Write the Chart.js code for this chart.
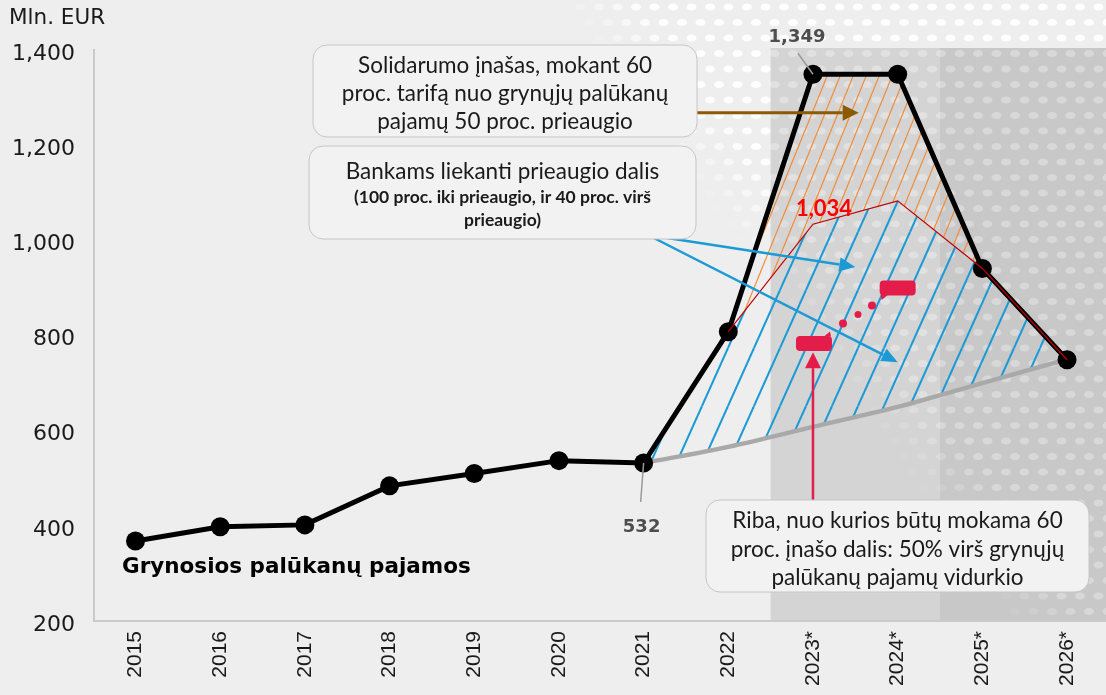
<!DOCTYPE html>
<html>
<head>
<meta charset="utf-8">
<script src="https://cdn.jsdelivr.net/npm/chart.js@4.4.1/dist/chart.umd.min.js"></script>
<style>
  html, body { margin: 0; padding: 0; background: #eeeeee; }
  #wrap { width: 1106px; height: 695px; }
</style>
</head>
<body>
<div id="wrap"><canvas id="chart" width="1106" height="695"></canvas></div>
<script>
// chart values
const years = ['2015', '2016', '2017', '2018', '2019', '2020', '2021', '2022', '2023*', '2024*', '2025*', '2026*'];
const netInterest = [368, 398, 402, 484, 510, 537, 532, 808, 1349, 1349, 941, 749];
const bankShare = [null, null, null, null, null, null, null, 808, 1034, 1083, 941, 749];
const threshold = [null, null, null, null, null, null, 532, 566, 608, 650, 700, 750];
const yTicks = [200, 400, 600, 800, 1000, 1200, 1400];

const unitLabel = 'Mln. EUR';
const seriesLabel = 'Grynosios palūkanų pajamos';
const noteSolidarity = ['Solidarumo įnašas, mokant 60', 'proc. tarifą nuo grynųjų palūkanų', 'pajamų 50 proc. prieaugio'];
const noteBanks = ['Bankams liekanti prieaugio dalis', '(100 proc. iki prieaugio, ir 40 proc. virš', 'prieaugio)'];
const noteThreshold = ['Riba, nuo kurios būtų mokama 60', 'proc. įnašo dalis: 50% virš grynųjų', 'palūkanų pajamų vidurkio'];

const X_MIN = -0.49, X_MAX = 11.46;

const fmt = v => v.toLocaleString('en-US');
const pts = arr => arr.map((v, i) => v === null ? null : { x: i, y: v }).filter(Boolean);

function hatch(color, w, h, lw) {
    const c = document.createElement('canvas');
    c.width = w;
    c.height = h;
    const g = c.getContext('2d');
    g.strokeStyle = color;
    g.lineWidth = lw;
    for (let k = -1; k <= 1; k++) {
        g.beginPath();
        g.moveTo(k * w, h);
        g.lineTo((k + 1) * w, 0);
        g.stroke();
    }
    return g.createPattern(c, 'repeat');
}

function arrow(ctx, x1, y1, x2, y2, color, lw, len, half) {
    const a = Math.atan2(y2 - y1, x2 - x1);
    const bx = x2 - len * Math.cos(a), by = y2 - len * Math.sin(a);
    ctx.save();
    ctx.strokeStyle = color;
    ctx.fillStyle = color;
    ctx.lineWidth = lw;
    ctx.beginPath();
    ctx.moveTo(x1, y1);
    ctx.lineTo(bx, by);
    ctx.stroke();
    ctx.beginPath();
    ctx.moveTo(x2, y2);
    ctx.lineTo(bx + half * Math.sin(a), by - half * Math.cos(a));
    ctx.lineTo(bx - half * Math.sin(a), by + half * Math.cos(a));
    ctx.closePath();
    ctx.fill();
    ctx.restore();
}

function noteBox(ctx, x, y, w, h, lines) {
    ctx.save();
    ctx.beginPath();
    ctx.roundRect(x, y, w, h, 14);
    ctx.fillStyle = '#f2f2f2';
    ctx.fill();
    ctx.strokeStyle = '#c6c6c6';
    ctx.lineWidth = 1;
    ctx.stroke();
    ctx.fillStyle = '#1a1a1a';
    ctx.textAlign = 'center';
    ctx.textBaseline = 'middle';
    lines.forEach(l => {
        ctx.font = l.font;
        ctx.fillText(l.text, x + w / 2, l.y);
    });
    ctx.restore();
}

const backdrop = {
    id: 'backdrop',
    beforeDraw(chart) {
        const { ctx, chartArea: a, scales: { x } } = chart;
        ctx.save();
        ctx.fillStyle = '#eeeeee';
        ctx.fillRect(0, 0, chart.width, chart.height);
        const b1 = x.getPixelForValue(7.5), b2 = x.getPixelForValue(9.5);
        const top = a.top - 2;
        ctx.fillStyle = '#d4d4d4';
        ctx.fillRect(b1, top, b2 - b1, a.bottom - top);
        ctx.fillStyle = '#c8c8c8';
        ctx.fillRect(b2, top, chart.width - b2, a.bottom - top);
        // dotted texture in the upper right corner
        for (let r = 0; r < 45; r++) {
            const yy = 7 + r * 15.5;
            if (yy > a.bottom - 4) break;
            for (let xx = 562 + (r % 2) * 9; xx < chart.width + 10; xx += 18.5) {
                let k = (xx - 560 - 0.72 * yy) / 80;
                if (k <= 0) continue;
                k = Math.min(k, 1);
                const inBand = xx >= b1 && yy >= top;
                ctx.fillStyle = `rgba(255,255,255,${(inBand ? 0.3 : 0.9) * k})`;
                ctx.beginPath();
                ctx.ellipse(xx, yy, 5, 3.6, 0, 0, Math.PI * 2);
                ctx.fill();
            }
        }
        ctx.restore();
    }
};

const notes = {
    id: 'notes',
    afterDraw(chart) {
        const { ctx, scales: { x, y } } = chart;
        const px = i => x.getPixelForValue(i);
        const py = v => y.getPixelForValue(v);

        ctx.save();
        ctx.fillStyle = '#1a1a1a';
        ctx.font = '21.5px "DejaVu Sans"';
        ctx.textBaseline = 'middle';
        ctx.fillText(unitLabel, 9, 18);

        ctx.fillStyle = '#000';
        ctx.font = 'bold 21.5px "DejaVu Sans"';
        ctx.fillText(seriesLabel, 122, 567);

        // value labels with leader lines
        const peak = netInterest[8], base = netInterest[6], red = bankShare[8];
        ctx.strokeStyle = '#9a9a9a';
        ctx.lineWidth = 1.5;
        ctx.beginPath();
        ctx.moveTo(px(8) - 15, py(peak) - 21);
        ctx.lineTo(px(8), py(peak));
        ctx.moveTo(px(6), py(base));
        ctx.lineTo(px(6) - 3, py(base) + 39);
        ctx.stroke();
        ctx.textAlign = 'center';
        ctx.fillStyle = '#4d4d4d';
        ctx.font = 'bold 18px "DejaVu Sans"';
        ctx.fillText(fmt(peak), px(8) - 16, py(peak) - 37);
        ctx.fillText(fmt(base), px(6) - 2, py(base) + 64);
        ctx.fillStyle = '#ff0000';
        ctx.font = 'bold 22px Lato';
        ctx.fillText(fmt(red), px(8) + 11, py(red) - 15);
        ctx.restore();

        // arrows
        arrow(ctx, 697, py(1268), px(8.54), py(1268), '#8c5a00', 3, 16, 8);
        arrow(ctx, 648, 235, px(8.5), py(944), '#1b9ad6', 2.5, 16, 7);
        arrow(ctx, 648, 235, px(9.0), py(744), '#1b9ad6', 2.5, 16, 7);
        arrow(ctx, px(8), 500, px(8), py(765), '#e31c4a', 2.5, 16, 8);

        // threshold icon
        ctx.save();
        ctx.fillStyle = '#e31c4a';
        const c1x = px(8) + 1, c1y = py(783), c2x = px(9), c2y = py(900);
        ctx.beginPath();
        ctx.roundRect(c1x - 18, c1y - 7.5, 36, 15, 4);
        ctx.roundRect(c2x - 18, c2y - 7.5, 36, 15, 4);
        ctx.fill();
        ctx.beginPath();
        ctx.moveTo(c1x + 10, c1y - 7);
        ctx.lineTo(c1x + 17, c1y - 7);
        ctx.lineTo(c1x + 16, c1y - 12);
        ctx.closePath();
        ctx.moveTo(c2x - 17, c2y + 7);
        ctx.lineTo(c2x - 10, c2y + 7);
        ctx.lineTo(c2x - 16, c2y + 12);
        ctx.closePath();
        ctx.fill();
        [[c1x + 29, c1y - 20, 4], [c1x + 44, c1y - 29, 3.5], [c1x + 58, c1y - 38, 4]].forEach(([dx, dy, r]) => {
            ctx.beginPath();
            ctx.arc(dx, dy, r, 0, Math.PI * 2);
            ctx.fill();
        });
        ctx.restore();

        // note boxes
        noteBox(ctx, 313, 45, 384, 92, [
            { text: noteSolidarity[0], font: '22.5px Lato', y: 66 },
            { text: noteSolidarity[1], font: '22.5px Lato', y: 94 },
            { text: noteSolidarity[2], font: '22.5px Lato', y: 122 }
        ]);
        noteBox(ctx, 309, 146, 387, 93, [
            { text: noteBanks[0], font: '22.5px Lato', y: 172 },
            { text: noteBanks[1], font: 'bold 17.5px Lato', y: 197 },
            { text: noteBanks[2], font: 'bold 17.5px Lato', y: 220 }
        ]);
        noteBox(ctx, 706, 500, 383, 92, [
            { text: noteThreshold[0], font: '22.5px Lato', y: 521 },
            { text: noteThreshold[1], font: '22.5px Lato', y: 550 },
            { text: noteThreshold[2], font: '22.5px Lato', y: 578 }
        ]);
    }
};

const orangeHatch = hatch('#f28a33', 13, 32, 1.2);
const blueHatch = hatch('#1b9ad6', 26, 58, 2);

new Chart(document.getElementById('chart'), {
    type: 'line',
    data: {
        datasets: [
            {
                label: 'Bankams liekanti dalis',
                data: pts(bankShare),
                borderColor: '#c00000',
                borderWidth: 1.2,
                pointRadius: 0,
                fill: false,
                order: 0
            },
            {
                label: seriesLabel,
                data: pts(netInterest),
                borderColor: '#000000',
                borderWidth: 5,
                pointRadius: 9.5,
                pointBackgroundColor: '#000000',
                pointBorderWidth: 0,
                fill: false,
                order: 1
            },
            {
                label: 'Solidarumo įnašas',
                data: pts(netInterest.map((v, i) => bankShare[i] === null ? null : v)),
                borderWidth: 0,
                pointRadius: 0,
                backgroundColor: orangeHatch,
                fill: { target: 0 },
                order: 2
            },
            {
                label: 'Prieaugis',
                data: pts(netInterest.map((v, i) => bankShare[i] !== null ? bankShare[i] : (threshold[i] !== null ? v : null))),
                borderWidth: 0,
                pointRadius: 0,
                backgroundColor: blueHatch,
                fill: { target: 4 },
                order: 3
            },
            {
                label: 'Riba',
                data: pts(threshold),
                borderColor: '#a9a9a9',
                borderWidth: 4.5,
                pointRadius: 0,
                tension: 0.35,
                fill: false,
                order: 4
            }
        ]
    },
    options: {
        responsive: false,
        animation: false,
        devicePixelRatio: 1,
        layout: { autoPadding: false, padding: { top: 50, right: 0, bottom: 0, left: 0 } },
        plugins: {
            legend: { display: false },
            tooltip: { enabled: false },
            filler: { drawTime: 'beforeDatasetsDraw' }
        },
        scales: {
            x: {
                type: 'linear',
                min: X_MIN,
                max: X_MAX,
                afterBuildTicks: s => {
                    s.ticks = years.map((_, i) => ({ value: i }));
                    s.min = X_MIN;
                    s.max = X_MAX;
                },
                afterFit: s => {
                    s.height = 74;
                    s.paddingLeft = 0;
                    s.paddingRight = 0;
                },
                grid: { display: false, drawTicks: false },
                border: { color: '#cacaca', width: 2 },
                ticks: {
                    autoSkip: false,
                    minRotation: 90,
                    maxRotation: 90,
                    padding: 10,
                    color: '#1a1a1a',
                    font: { family: 'Liberation Sans', size: 21 },
                    callback: v => years[v]
                }
            },
            y: {
                min: 200,
                max: 1400,
                afterBuildTicks: s => { s.ticks = yTicks.map(v => ({ value: v })); },
                afterFit: s => { s.width = 94; },
                grid: { display: false, drawTicks: false },
                border: { color: '#cacaca', width: 2 },
                ticks: {
                    padding: 19,
                    labelOffset: 4,
                    color: '#1a1a1a',
                    font: { family: 'DejaVu Sans', size: 22 },
                    callback: v => fmt(v)
                }
            }
        }
    },
    plugins: [backdrop, notes]
});
</script>
</body>
</html>
